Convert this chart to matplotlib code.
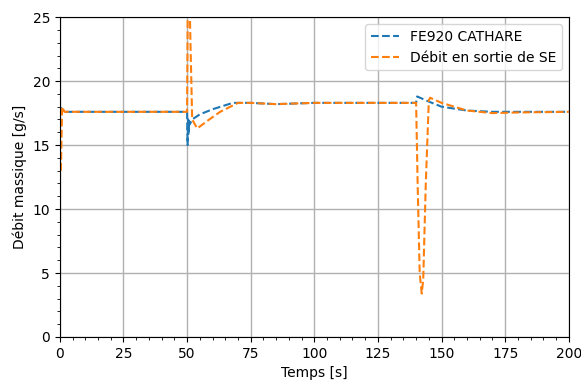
import numpy as np
import matplotlib
matplotlib.use('Agg')
import matplotlib.pyplot as plt
from matplotlib.ticker import MultipleLocator

# FE920 CATHARE
t_cath = [0, 0.5, 1, 50, 50.2, 50.4, 50.6, 50.8, 51, 52, 55, 60, 68, 75, 85, 100,
          120, 140, 140.4, 145, 150, 160, 170, 200]
q_cath = [17.6, 17.9, 17.6, 17.6, 15.0, 17.0, 15.8, 16.9, 16.6, 17.0, 17.4, 17.8,
          18.3, 18.3, 18.2, 18.3, 18.3, 18.3, 18.8, 18.4, 18.0, 17.7, 17.6, 17.6]

# Debit en sortie de SE
t_se = [0.4, 0.9, 1.8, 50, 50.3, 51, 52, 54, 58, 63, 70, 75, 85, 100, 120, 140,
        140.6, 141.4, 142.2, 142.8, 143.8, 145, 145.5, 150, 160, 170, 180, 200]
q_se = [13.0, 18.0, 17.6, 17.6, 27, 26, 17.0, 16.3, 16.9, 17.6, 18.3, 18.3, 18.2,
        18.3, 18.3, 18.3, 12.0, 5.0, 3.4, 4.5, 12.0, 18.5, 18.7, 18.3, 17.7, 17.5,
        17.55, 17.6]

fig = plt.figure(figsize=(5.81, 3.81), dpi=100)
ax = fig.add_axes([0.103, 0.1155, 0.876, 0.8395])

ax.plot(t_cath, q_cath, '--', color='#1f77b4', lw=1.5, label='FE920 CATHARE')
ax.plot(t_se, q_se, '--', color='#ff7f0e', lw=1.5, label='Débit en sortie de SE')

ax.set_xlim(0, 200)
ax.set_ylim(0, 25)
ax.xaxis.set_major_locator(MultipleLocator(25))
ax.xaxis.set_minor_locator(MultipleLocator(5))
ax.yaxis.set_major_locator(MultipleLocator(5))
ax.yaxis.set_minor_locator(MultipleLocator(1))
ax.grid(True, which='major', color='#b0b0b0', linewidth=1)
ax.set_axisbelow(True)
ax.set_xlabel('Temps [s]')
ax.set_ylabel('Débit massique [g/s]')
ax.legend(loc='upper right')

fig.savefig('out.png', dpi=100)
